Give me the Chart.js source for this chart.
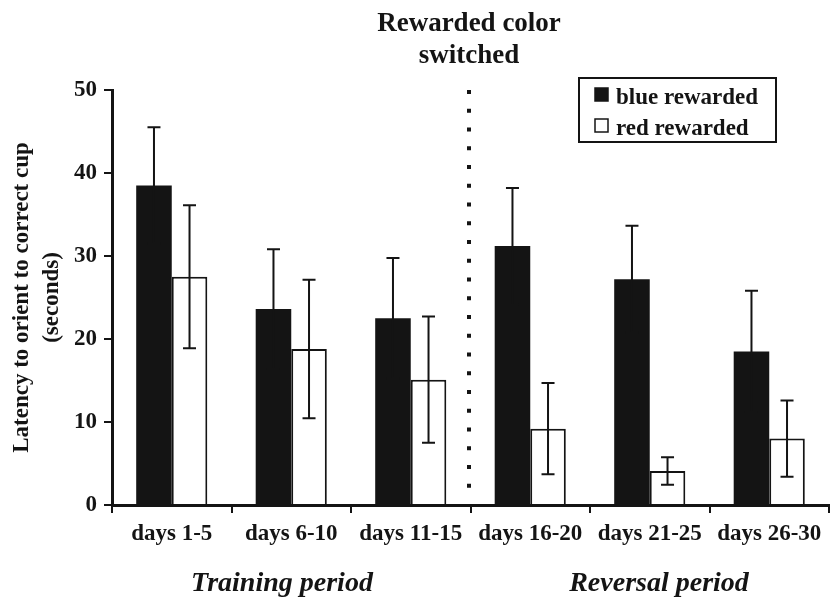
<!DOCTYPE html>
<html>
  <head>
    <meta charset="utf-8">
    <script src="https://cdn.jsdelivr.net/npm/chart.js@4.4.1/dist/chart.umd.min.js"></script>
    <style>
      html, body { margin: 0; padding: 0; background: #fff; }
      #wrap { width: 833px; height: 598px; }
    </style>
  </head>
  <body>
    <div id="wrap"><canvas id="myChart" width="833" height="598"></canvas></div>
    <script>
      // data
      const days = ['days 1-5', 'days 6-10', 'days 11-15', 'days 16-20', 'days 21-25', 'days 26-30'];
      const blueRewarded = [38.5, 23.6, 22.5, 31.2, 27.2, 18.5];
      const blueErr = [7.0, 7.2, 7.25, 7.0, 6.45, 7.3];
      const redRewarded = [27.5, 18.8, 15.1, 9.2, 4.1, 8.0];
      const redErr = [8.6, 8.35, 7.6, 5.5, 1.65, 4.6];
      const yTicks = [0, 10, 20, 30, 40, 50];
      const periods = ['Training period', 'Reversal period'];

      const serif = '"Liberation Serif", "Times New Roman", serif';
      const ink = '#141414';

      // error bars, drawn over the bars
      const errorBars = {
        id: 'errorBars',
        afterDatasetsDraw(chart) {
          const ctx = chart.ctx;
          const y = chart.scales.y;
          ctx.save();
          ctx.strokeStyle = ink;
          ctx.lineWidth = 2;
          chart.data.datasets.forEach((ds, i) => {
            const meta = chart.getDatasetMeta(i);
            meta.data.forEach((bar, j) => {
              const v = ds.data[j], e = ds.err[j];
              const top = y.getPixelForValue(v + e);
              const bot = y.getPixelForValue(v - e);
              ctx.beginPath();
              ctx.moveTo(bar.x, top); ctx.lineTo(bar.x, bot);
              ctx.moveTo(bar.x - 6.5, top); ctx.lineTo(bar.x + 6.5, top);
              ctx.moveTo(bar.x - 6.5, bot); ctx.lineTo(bar.x + 6.5, bot);
              ctx.stroke();
            });
          });
          ctx.restore();
        }
      };

      // dotted switch line, header, legend box and period labels
      const extras = {
        id: 'extras',
        afterDraw(chart) {
          const ctx = chart.ctx;
          const x = chart.scales.x;
          const area = chart.chartArea;
          const sx = (x.getPixelForValue(2) + x.getPixelForValue(3)) / 2 - 1.5;
          ctx.save();
          ctx.fillStyle = ink;
          for (let yy = area.top + 2; yy < area.bottom - 14; yy += 18.75) {
            ctx.fillRect(sx - 2, yy - 2, 4, 4);
          }

          ctx.textAlign = 'center';
          ctx.textBaseline = 'alphabetic';
          ctx.font = 'bold 27px ' + serif;
          ctx.fillText('Rewarded color', sx, 31);
          ctx.fillText('switched', sx, 63);

          // legend
          ctx.lineWidth = 2;
          ctx.strokeStyle = ink;
          ctx.strokeRect(579, 78, 197, 64);
          ctx.textAlign = 'left';
          ctx.font = 'bold 23px ' + serif;
          chart.data.datasets.forEach((ds, i) => {
            const ly = 104 + i * 31;
            ctx.fillStyle = ds.backgroundColor;
            ctx.fillRect(595, ly - 16, 13, 13);
            ctx.lineWidth = 1.5;
            ctx.strokeRect(595, ly - 16, 13, 13);
            ctx.fillStyle = ink;
            ctx.fillText(ds.label, 616, ly);
          });

          ctx.textAlign = 'center';
          ctx.font = 'italic bold 28px ' + serif;
          ctx.fillText(periods[0], 282, 591);
          ctx.fillText(periods[1], 659, 591);
          ctx.restore();
        }
      };

      const data = {
        labels: days,
        datasets: [{
          label: 'blue rewarded',
          data: blueRewarded,
          err: blueErr,
          backgroundColor: ink,
          borderColor: ink,
          borderWidth: 0
        }, {
          label: 'red rewarded',
          data: redRewarded,
          err: redErr,
          backgroundColor: '#ffffff',
          borderColor: ink,
          borderWidth: 2
        }]
      };

      const config = {
        type: 'bar',
        data: data,
        options: {
          responsive: false,
          animation: false,
          layout: { padding: { top: 90, left: 0, right: 4, bottom: 0 } },
          datasets: { bar: { barPercentage: 1, categoryPercentage: 0.595 } },
          plugins: { legend: { display: false }, tooltip: { enabled: false } },
          scales: {
            x: {
              afterFit(s) { s.height = 93; },
              border: { display: true, color: ink, width: 3 },
              grid: { display: true, drawOnChartArea: false, drawTicks: true, tickLength: 8, offset: true, color: ink, lineWidth: 2 },
              ticks: { color: ink, padding: 7, font: { family: serif, size: 23, weight: 'bold' }, maxRotation: 0, autoSkip: false }
            },
            y: {
              min: 0,
              max: 50,
              afterFit(s) { s.width = 112; },
              afterBuildTicks(s) { s.ticks = yTicks.map(v => ({ value: v })); },
              border: { display: true, color: ink, width: 3 },
              grid: { display: true, drawOnChartArea: false, drawTicks: true, tickLength: 8, color: ink, lineWidth: 2 },
              ticks: { color: ink, padding: 7, font: { family: serif, size: 23, weight: 'bold' } },
              title: {
                display: true,
                text: ['Latency to orient to correct cup', '(seconds)'],
                color: ink,
                padding: { top: 7, bottom: 0 },
                font: { family: serif, size: 23, weight: 'bold', lineHeight: 1.3 }
              }
            }
          }
        },
        plugins: [errorBars, extras]
      };

      var myChart = new Chart(document.getElementById('myChart'), config);
    </script>
  </body>
</html>
